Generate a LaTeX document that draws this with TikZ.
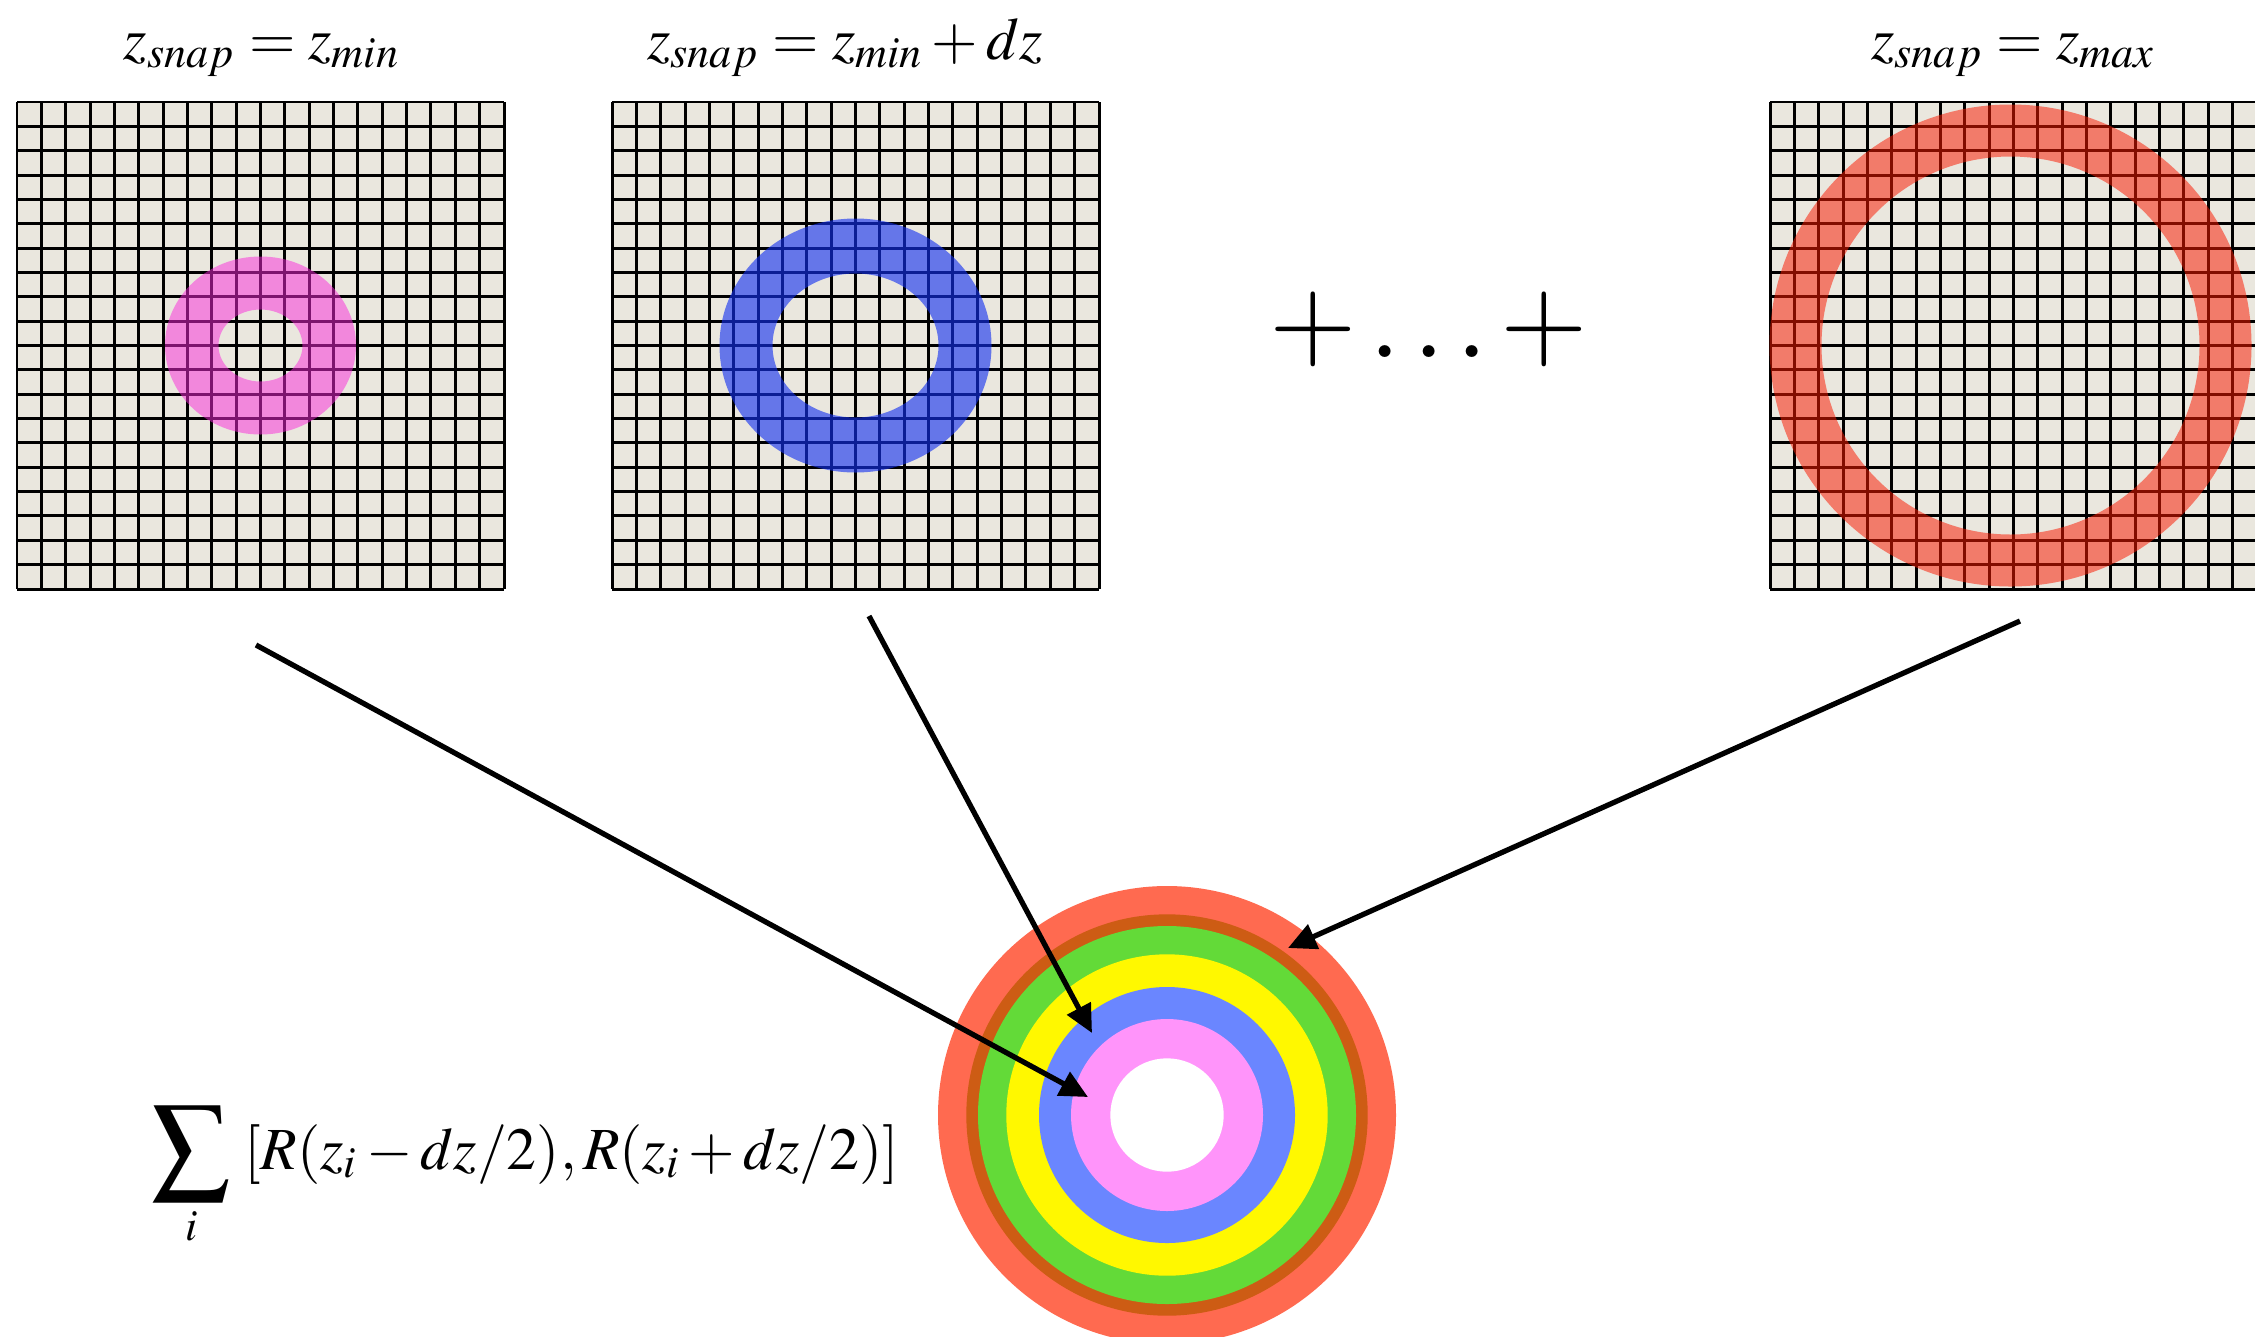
\documentclass[tikz,border=0pt]{standalone}
\usepackage{mathptmx}
\usetikzlibrary{arrows.meta,positioning}

\definecolor{cellbg}{RGB}{234,231,222}
\definecolor{ringmag}{RGB}{250,40,220}
\definecolor{ringblue}{RGB}{20,50,240}
\definecolor{ringred}{RGB}{250,25,0}
\definecolor{sumred}{RGB}{255,106,80}
\definecolor{sumbrown}{RGB}{205,92,20}
\definecolor{sumgreen}{RGB}{99,218,56}
\definecolor{sumyellow}{RGB}{255,248,0}
\definecolor{sumblue}{RGB}{106,134,255}
\definecolor{sumpink}{RGB}{255,148,250}

\tikzset{
  gridline/.style={black,line width=0.85pt},
  title/.style={font=\fontsize{17}{20}\selectfont,inner sep=0pt},
  snapring/.style={fill=#1,fill opacity=0.5,even odd rule},
  sumarrow/.style={->,line width=1.5pt}
}

\begin{document}
\begin{tikzpicture}[>={Triangle[length=2.8mm,width=2.6mm]}]
  \def\s{0.2435}
  \useasboundingbox (0,0) rectangle (22.55,-13.36);
  % snapshot grids, 20 x 20 cells, left edges of the three panels
  \foreach \x/\n in {0.17/1,6.12/2,17.70/3}{
    \fill[cellbg] (\x,-1.02) rectangle ++(20*\s,-20*\s);
    \foreach \i in {0,...,20}{
      \draw[gridline] ({\x+\i*\s},-1.02) -- ++(0,-20*\s);
      \draw[gridline] (\x,{-1.02-\i*\s}) -- ++(20*\s,0);
    }
    \coordinate (c\n) at ({\x+10*\s},{-1.02-10*\s});
  }
  % rings of the single snapshots
  \fill[snapring=ringmag] (c1) ellipse [x radius=0.955,y radius=0.89] (c1) ellipse [x radius=0.42,y radius=0.36];
  \fill[snapring=ringblue,fill opacity=0.62] (c2) ellipse [x radius=1.36,y radius=1.27] (c2) ellipse [x radius=0.83,y radius=0.72];
  \fill[snapring=ringred,fill opacity=0.52] ([xshift=-0.3mm]c3) circle [radius=2.41] ([xshift=-0.3mm]c3) circle [radius=1.89];
  % titles
  \node[title,anchor=base] (t1) at (2.62,-0.59) {$z_{snap}=z_{min}$};
  \node[title,anchor=base] (t2) at (8.45,-0.59) {$z_{snap}=z_{min}+dz$};
  \node[title,anchor=base] (t3) at (20.13,-0.59) {$z_{snap}=z_{max}$};
  \node[font=\fontsize{32}{36}\selectfont,inner sep=0pt] (dots) at (14.29,-3.29) {$+\ldots+$};
  % summed shells
  \coordinate (o) at (11.67,-11.15);
  \foreach \r/\c in {2.29/sumred,2.007/sumbrown,1.89/sumgreen,1.607/sumyellow,1.28/sumblue,0.96/sumpink,0.567/white}
    \fill[\c] (o) circle [radius=\r];
  \node[title,anchor=base west] (sum) at (1.51,-11.69)
    {$\displaystyle\mathop{\vcenter{\hbox{\fontsize{22}{22}\selectfont$\displaystyle\sum$}}}\limits_i\;[R(z_i-dz/2),R(z_i+dz/2)]$};
  % arrows from the snapshots to the sum
  \coordinate (f1) at (2.56,-6.45);  \coordinate (e1) at (10.88,-10.97);
  \coordinate (f2) at (8.69,-6.16);  \coordinate (e2) at (10.92,-10.33);
  \coordinate (f3) at (20.20,-6.21); \coordinate (e3) at (12.88,-9.48);
  \foreach \k in {1,2,3}
    \draw[sumarrow] (f\k) -- (e\k);
\end{tikzpicture}
\end{document}
